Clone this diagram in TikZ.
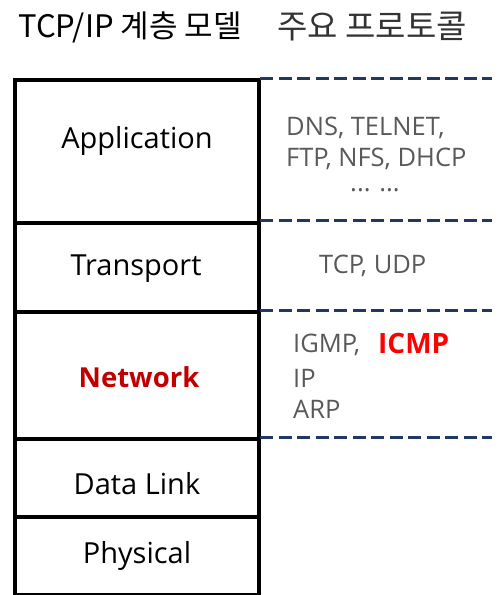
\documentclass[tikz,border=0pt]{standalone}
\usepackage{fontspec}
\setmainfont{Open Sans}
\newfontfamily\krfont{Noto Sans CJK KR}
\definecolor{dashblue}{HTML}{1F3864}
\definecolor{protogray}{HTML}{595959}
\definecolor{netred}{HTML}{C00000}
\definecolor{icmpred}{HTML}{FF0000}
\begin{document}
\begin{tikzpicture}[x=1pt,y=-1pt,
  layer/.style={draw=black,line width=3.5pt,minimum width=244pt,inner sep=0pt,anchor=north west},
  lname/.style={font=\fontsize{29}{32}\selectfont,text=black},
  proto/.style={font=\fontsize{25.5}{28}\selectfont,text=protogray,anchor=west,inner sep=0pt},
  sep/.style={draw=dashblue,line width=3pt,dash pattern=on 13pt off 5.5pt}]
\useasboundingbox (0,0) rectangle (500,595);
\node[font=\krfont\fontsize{31}{34}\selectfont] (t1) at (130,27) {TCP/IP 계층 모델};
\node[font=\krfont\fontsize{33}{36}\selectfont,text=black!80] (t2) at (372,27) {주요 프로토콜};
% layer boxes
\node[layer,minimum height=143pt] (app) at (13,78) {};
\node[layer,minimum height=89pt] (tra) at (13,221) {};
\node[layer,minimum height=127pt] (net) at (13,310) {};
\node[layer,minimum height=78pt] (dl) at (13,437) {};
\node[layer,minimum height=78pt] (phy) at (13,515) {};
\node[lname] (appl) at (137,141) {Application};
\node[lname] (tral) at (136,269) {Transport};
\node[lname,text=netred,font=\bfseries\fontsize{27.5}{30}\selectfont] (netl) at (139,377) {Network};
\node[lname] (dll) at (137,484) {Data Link};
\node[lname] (phyl) at (137,556) {Physical};
% separators
\coordinate (s1a) at (260,78); \coordinate (s1b) at (492,78);
\coordinate (s2a) at (260,220); \coordinate (s2b) at (492,220);
\coordinate (s3a) at (260,310); \coordinate (s3b) at (492,310);
\coordinate (s4a) at (260,437); \coordinate (s4b) at (492,437);
\draw[sep] (s1a) -- (s1b);
\draw[sep] (s2a) -- (s2b);
\draw[sep] (s3a) -- (s3b);
\draw[sep] (s4a) -- (s4b);
% protocols
\node[proto] (p1) at (286,128) {DNS, TELNET,};
\node[proto] (p2) at (286,159) {FTP, NFS, DHCP};
\node[proto,anchor=center] (p3) at (375,190) {... ...};
\node[proto] (p4) at (319,266) {TCP, UDP};
\node[proto] (p5) at (293,345) {IGMP,};
\node[proto,text=icmpred,font=\bfseries\fontsize{28}{30}\selectfont] (p6) at (378,343) {ICMP};
\node[proto] (p7) at (293,378) {IP};
\node[proto] (p8) at (293,409) {ARP};
\end{tikzpicture}
\end{document}
